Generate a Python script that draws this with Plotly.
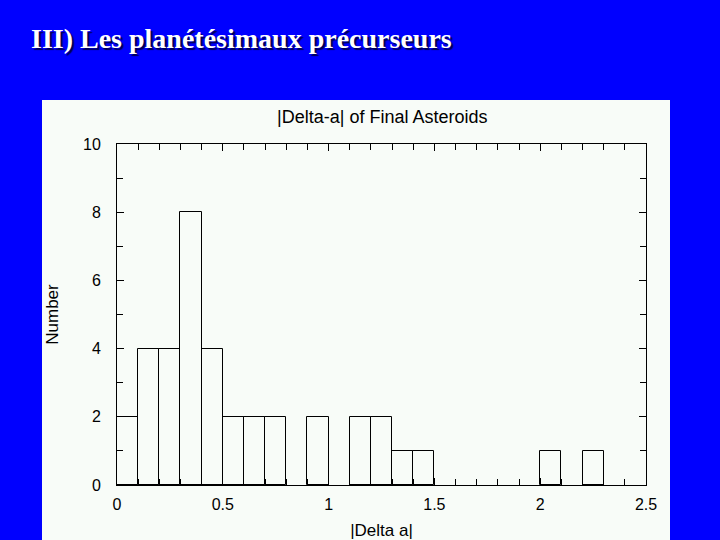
import plotly.graph_objects as go

# Histogram of |Delta a| (bin width 0.1)
bin_left = [0.0, 0.1, 0.2, 0.3, 0.4, 0.5, 0.6, 0.7, 0.8, 0.9, 1.0, 1.1, 1.2, 1.3, 1.4,
            1.5, 1.6, 1.7, 1.8, 1.9, 2.0, 2.1, 2.2, 2.3, 2.4]
counts = [2, 4, 4, 8, 4, 2, 2, 2, 0, 2, 0, 2, 2, 1, 1,
          0, 0, 0, 0, 0, 1, 0, 1, 0, 0]
bin_width = 0.1

x_ticks = [0, 0.5, 1, 1.5, 2, 2.5]
x_ticklabels = ["0", "0.5", "1", "1.5", "2", "2.5"]
y_ticks = [0, 2, 4, 6, 8, 10]
y_ticklabels = ["0", "2", "4", "6", "8", "10"]

slide_title = "III) Les planétésimaux précurseurs"
chart_title = "|Delta-a| of Final Asteroids"
x_title = "|Delta a|"
y_title = "Number"

centers = [b + bin_width / 2 for b in bin_left]
xs = [x for x, c in zip(centers, counts) if c > 0]
ys = [c for c in counts if c > 0]

fig = go.Figure()
fig.add_trace(go.Bar(
    x=xs, y=ys, width=bin_width,
    marker=dict(color="rgba(0,0,0,0)", line=dict(color="black", width=1)),
    showlegend=False, hoverinfo="skip",
))

W, H = 720, 540
L, R, T, B = 117, 74, 144, 55

def px_x(p):
    return (p - L) / (W - L - R)

def px_y(p):
    return (H - B - p) / (H - T - B)

fig.add_shape(type="rect", xref="paper", yref="paper",
              x0=px_x(42), x1=px_x(670), y0=px_y(545), y1=px_y(100),
              fillcolor="#f8fcf8", line=dict(width=0), layer="below")

axis_font = dict(family="Liberation Sans, Arial, sans-serif", size=16, color="black")
title_font = dict(family="Liberation Sans, Arial, sans-serif", size=17, color="black")

fig.update_xaxes(
    range=[0, 2.5], tickvals=x_ticks, ticktext=x_ticklabels,
    showline=True, linecolor="black", linewidth=1, mirror="ticks",
    ticks="inside", ticklen=7, tickcolor="black", tickwidth=1,
    minor=dict(dtick=0.1, ticks="inside", ticklen=6, tickcolor="black", tickwidth=1, showgrid=False),
    showgrid=False, zeroline=False, tickfont=axis_font, ticklabelstandoff=5,
    title=dict(text=x_title, font=title_font, standoff=12),
    automargin=False,
)
fig.update_yaxes(
    range=[0, 10], tickvals=y_ticks, ticktext=y_ticklabels,
    showline=True, linecolor="black", linewidth=1, mirror="ticks",
    ticks="inside", ticklen=7, tickcolor="black", tickwidth=1,
    minor=dict(dtick=1, ticks="inside", ticklen=6, tickcolor="black", tickwidth=1, showgrid=False),
    showgrid=False, zeroline=False, tickfont=axis_font, ticklabelstandoff=12,
    title=dict(text=y_title, font=title_font, standoff=20),
    automargin=False,
)

fig.add_annotation(
    text=chart_title, xref="paper", yref="paper", x=0.5, y=px_y(117),
    xanchor="center", yanchor="middle", showarrow=False,
    font=dict(family="Liberation Sans, Arial, sans-serif", size=18, color="black"),
)

fig.add_annotation(
    text="<b>" + slide_title + "</b>", xref="paper", yref="paper",
    x=px_x(29), y=px_y(38), xanchor="left", yanchor="middle", showarrow=False,
    font=dict(family="Liberation Serif, Times New Roman, serif", size=28, color="white",
              shadow="2px 2px 1px #000050"),
)

fig.update_layout(
    width=W, height=H,
    margin=dict(l=L, r=R, t=T, b=B, autoexpand=False),
    paper_bgcolor="#0000ff",
    plot_bgcolor="rgba(0,0,0,0)",
    bargap=0,
)

fig.write_html("out.html", config={"displayModeBar": False},
               post_script="document.body.style.margin='0';")
